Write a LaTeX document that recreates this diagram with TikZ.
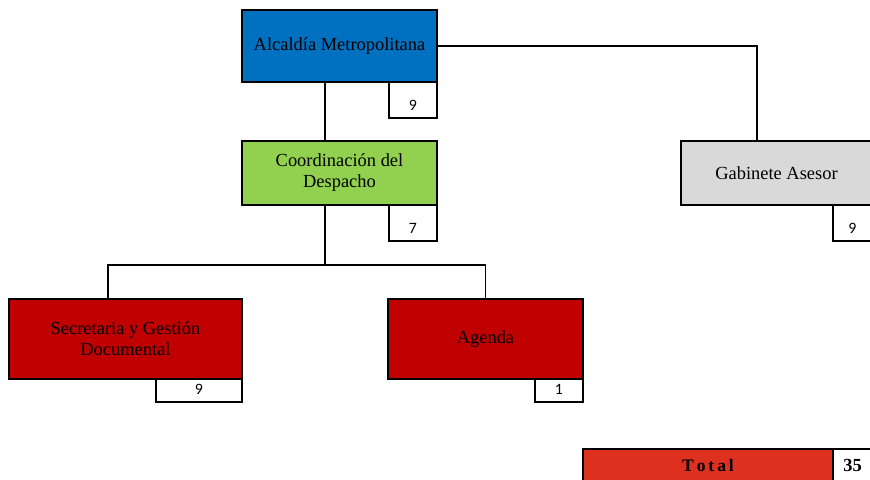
\documentclass[tikz,border=0pt]{standalone}
\usepackage{fontspec}
\setmainfont{Liberation Serif}
\newfontfamily\numfont{Carlito}
\definecolor{alcblue}{RGB}{0, 112, 192}
\definecolor{coordgreen}{RGB}{146, 208, 80}
\definecolor{gabgray}{RGB}{217, 217, 217}
\definecolor{unitred}{RGB}{192, 0, 0}
\definecolor{totalred}{RGB}{222, 48, 30}
\usetikzlibrary{positioning}

\begin{document}
\begin{tikzpicture}[
  x=0.02cm, y=-0.02cm,
  unit/.style={draw, line width=1pt, inner sep=2pt, align=center,
               font=\fontsize{10.5}{12}\selectfont},
  num/.style={draw, line width=1pt, fill=white, inner sep=0pt, text depth=4pt,
              font=\numfont\fontsize{9}{10}\selectfont},
  numtall/.style={num, minimum height=0.72cm, text height=16.4pt},
  numshort/.style={num, minimum height=0.46cm, text height=9pt},
  link/.style={line width=1pt},
]
\useasboundingbox (0,0) rectangle (870,480);

% Units
\node[unit, fill=alcblue, minimum width=3.9cm, minimum height=1.44cm] (alc) at (339.5, 46) {Alcaldía Metropolitana};
\node[unit, fill=coordgreen, minimum width=3.9cm, minimum height=1.28cm] (coord) at (339.5, 173) {Coordinación del\\Despacho};
\node[unit, fill=gabgray, minimum width=3.82cm, minimum height=1.28cm] (gab) at (776.5, 173) {Gabinete Asesor};
\node[unit, fill=unitred, minimum width=4.66cm, minimum height=1.6cm] (sec) at (125.5, 339) {Secretaria y Gestión\\Documental};
\node[unit, fill=unitred, minimum width=3.9cm, minimum height=1.6cm] (agd) at (485.5, 339) {Agenda};

% Staff counts
\node[numtall, minimum width=0.96cm] (nalc) at (413, 100) {9};
\node[numtall, minimum width=0.96cm] (ncoord) at (413, 223) {7};
\node[numtall, minimum width=0.78cm] (ngab) at (852.5, 223) {9};
\node[numshort, minimum width=1.72cm] (nsec) at (199, 390.5) {9};
\node[numshort, minimum width=0.96cm] (nagd) at (559, 390.5) {1};

% Total
\node[draw, line width=1pt, fill=totalred, minimum width=5cm, minimum height=0.66cm,
      inner sep=0pt, font=\bfseries\fontsize{10}{11}\selectfont] (tot) at (708, 465.5) {T\,o\,t\,a\,l};
\node[draw, line width=1pt, fill=white, minimum width=0.78cm, minimum height=0.66cm,
      inner sep=0pt, font=\bfseries\fontsize{10.5}{11}\selectfont] (ntot) at (852.5, 465.5) {35};

% Connectors
\coordinate (spine) at (325, 0);
\coordinate (gabdrop) at (757, 0);
\coordinate (split) at (325, 265);
\draw[link] (alc.south -| spine) -- (coord.north -| spine);
\draw[link] (alc.east) -| (gab.north -| gabdrop);
\draw[link] (coord.south -| spine) -- (split);
\draw[link] (split) -| ([xshift=-0.35cm]sec.north);
\draw[link] (split) -| (agd.north);
\end{tikzpicture}
\end{document}
